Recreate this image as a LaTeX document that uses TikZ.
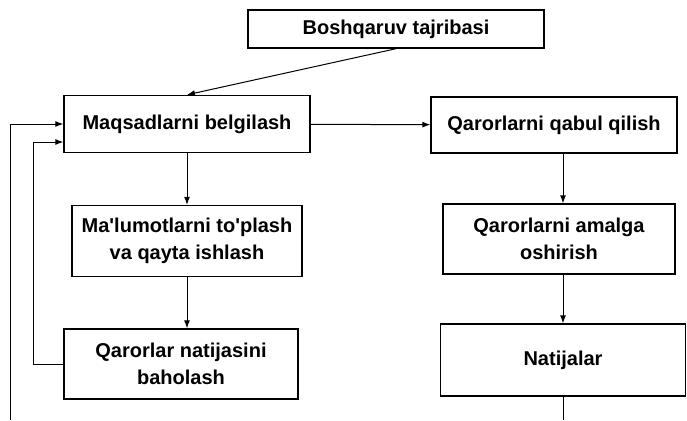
\documentclass[tikz,border=0pt]{standalone}
\usepackage{fontspec}
\setmainfont{Liberation Sans}
\usetikzlibrary{arrows.meta}

\tikzset{
  blok/.style={draw, line width=1.4pt, align=center, font=\bfseries\fontsize{20}{27}\selectfont, inner sep=1pt},
  strelka/.style={line width=1pt, -{Latex[length=8pt,width=6pt]}}
}

\begin{document}
\begin{tikzpicture}[x=1pt, y=-1pt]
			%%%%% START %%%%%
			\useasboundingbox (0, 0) rectangle (687, 420);
			
			\node[blok, minimum width=296pt, minimum height=38pt] (tajriba) at (396, 29) {Boshqaruv tajribasi};
			
			\node[blok, minimum width=246pt, minimum height=57pt] (maqsad) at (187, 124) {Maqsadlarni belgilash};
			\node[blok, minimum width=246pt, minimum height=56pt] (qabul) at (554, 125) {Qarorlarni qabul qilish};
			
			\node[blok, minimum width=230pt, minimum height=71pt] (malumot) at (187, 241) {Ma\textquotesingle lumotlarni to\textquotesingle plash\\ va qayta ishlash};
			\node[blok, minimum width=232pt, minimum height=70pt] (amalga) at (559, 239) {Qarorlarni amalga\\ oshirish};
			
			\node[blok, minimum width=234pt, minimum height=70pt] (baholash) at (181, 364) {Qarorlar natijasini\\ baholash};
			\node[blok, minimum width=245pt, minimum height=72pt] (natijalar) at (563, 360) {Natijalar};
			
			\coordinate (pastO) at (563, 420);
			\coordinate (pastC) at (10, 420);
			\coordinate (ichki) at (33, 142);
			
			\draw[strelka] (tajriba.south) -- (maqsad.north);
			\draw[strelka] (maqsad) -- (qabul);
			\draw[strelka] (maqsad) -- (malumot);
			\draw[strelka] (malumot.south) -- (malumot.south |- baholash.north);
			\draw[strelka] (natijalar.north |- qabul.south) -- (natijalar.north |- amalga.north);
			\draw[strelka] (natijalar.north |- amalga.south) -- (natijalar.north);
			
			% qaytish chiziqlari
			\draw[line width=1pt] (natijalar.south) -- (pastO);
			\draw[strelka] (pastC) |- (maqsad.west);
			\draw[strelka] (baholash.west) -| (ichki) -- (ichki -| maqsad.west);
			%%%%% END %%%%%
\end{tikzpicture}
\end{document}
